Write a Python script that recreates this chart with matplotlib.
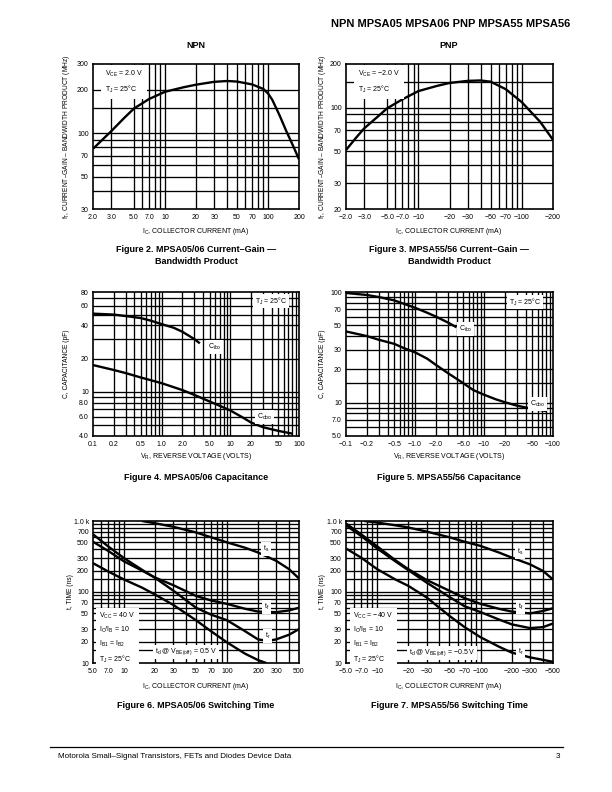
import matplotlib.pyplot as plt

plt.rcParams['font.family'] = ['Liberation Sans', 'DejaVu Sans']
plt.rcParams['mathtext.fontset'] = 'custom'
plt.rcParams['mathtext.rm'] = 'Liberation Sans'

# ---- data ----
# Figure 2: NPN fT vs IC
npn_ft_ic = [2, 2.5, 3, 4, 5, 7, 10, 15, 20, 30, 40, 50, 70, 90, 100, 110, 130, 150, 175, 200]
npn_ft = [78, 91, 103, 127, 148, 172, 193, 207, 216, 226, 229, 227, 217, 202, 188, 170, 132, 104, 82, 66]

# Figure 3: PNP fT vs IC (magnitude of negative current)
pnp_ft_ic = [2, 2.5, 3, 4, 5, 7, 10, 15, 20, 30, 40, 50, 70, 100, 150, 200]
pnp_ft = [51, 62, 72, 86, 99, 114, 130, 141, 148, 153, 154, 151, 134, 109, 80, 60]

# Figure 4: NPN capacitance vs VR
npn_cibo_v = [0.1, 0.2, 0.3, 0.5, 0.7, 1.0, 1.5, 2.0, 3.0, 3.6]
npn_cibo = [51, 50, 48.5, 46.5, 44, 41, 38, 35, 30, 27.5]
npn_cobo_v = [0.1, 0.2, 0.3, 0.5, 1, 2, 3, 5, 7, 10, 15, 20, 30, 50, 80]
npn_cobo = [17.5, 15.8, 14.8, 13.5, 12, 10.4, 9.4, 8.2, 7.5, 6.8, 5.9, 5.3, 4.8, 4.45, 4.2]

# Figure 5: PNP capacitance vs VR (magnitude)
pnp_cibo_v = [0.1, 0.2, 0.3, 0.5, 0.7, 1, 1.5, 2, 3, 4]
pnp_cibo = [98, 94, 90, 84, 78, 72, 65, 60, 53, 48]
pnp_cobo_v = [0.1, 0.2, 0.3, 0.5, 0.7, 1, 1.5, 2, 3, 5, 7, 10, 15, 20, 30, 50, 80]
pnp_cobo = [44, 40, 37, 34, 31, 28.5, 25, 22, 18.5, 15, 13, 11.8, 10.7, 10.1, 9.4, 8.8, 8.4]

# Figure 6: NPN switching times
npn_ts_ic = [15, 20, 30, 50, 70, 100, 150, 200, 300, 400, 500]
npn_ts = [1000, 930, 830, 690, 590, 500, 420, 360, 275, 210, 155]
npn_tr_ic = [5, 7, 10, 15, 20, 30, 50, 70, 100, 150, 200, 250, 300, 400, 500]
npn_tr = [650, 440, 300, 205, 158, 105, 60, 48, 40, 28, 21.5, 20.5, 21.5, 25, 30]
npn_tf_ic = [5, 7, 10, 15, 20, 30, 50, 70, 100, 150, 200, 300, 400, 500]
npn_tf = [510, 380, 270, 200, 160, 125, 88, 76, 68, 58, 53, 52, 55, 60]
npn_td_ic = [5, 7, 10, 15, 20, 30, 50, 70, 100, 150, 200, 240]
npn_td = [255, 195, 150, 115, 92, 66, 40, 28, 19.5, 13.5, 11, 10]

# Figure 7: PNP switching times (magnitude of current)
pnp_ts_ic = [7.5, 10, 15, 20, 30, 50, 70, 100, 150, 200, 300, 400, 500]
pnp_ts = [1000, 950, 870, 810, 710, 590, 510, 445, 360, 305, 245, 198, 150]
pnp_tf_ic = [5, 7, 10, 15, 20, 30, 50, 70, 100, 150, 200, 300, 400, 500]
pnp_tf = [920, 650, 440, 280, 210, 148, 104, 82, 68, 58, 53, 50, 54, 59]
pnp_t2 = [870, 615, 410, 270, 203, 136, 85, 63, 52, 41, 35, 31, 32, 36]
pnp_tr_ic = [5, 7, 10, 15, 20, 30, 50, 70, 100, 150, 200, 300, 500]
pnp_tr = [410, 305, 210, 150, 122, 84, 46, 32, 23, 17, 14, 12, 10.4]

# ---- ticks and grid lines ----
ft_x_ticks = [2, 3, 5, 7, 10, 20, 30, 50, 70, 100, 200]
ft_x_grid = [3, 5, 6, 7, 8, 9, 10, 20, 30, 40, 50, 60, 70, 80, 90, 100]
npn_ft_y_ticks = [30, 50, 70, 100, 200, 300]
npn_ft_y_grid = [40, 50, 60, 70, 80, 90, 100, 150, 200]
pnp_ft_y_ticks = [20, 30, 50, 70, 100, 200]
pnp_ft_y_grid = [30, 40, 50, 60, 70, 80, 90, 100, 150]

cap_x_ticks = [0.1, 0.2, 0.5, 1, 2, 5, 10, 20, 50, 100]
cap_x_grid = [m * d for d in (0.1, 1, 10) for m in range(2, 10)] + [1, 10]
npn_cap_y_ticks = [4, 6, 8, 10, 20, 40, 60, 80]
npn_cap_y_grid = [5, 6, 7, 8, 9, 10, 20, 30, 40, 50, 60, 70]
pnp_cap_y_ticks = [5, 7, 10, 20, 30, 50, 70, 100]
pnp_cap_y_grid = [6, 7, 8, 9, 10, 15, 20, 30, 40, 50, 60, 70, 80, 90]

sw_x_ticks = [5, 7, 10, 20, 30, 50, 70, 100, 200, 300, 500]
sw_x_grid = [6, 7, 8, 9, 10, 20, 30, 40, 50, 60, 70, 80, 90, 100, 200, 300, 400]
sw_y_ticks = [10, 20, 30, 50, 70, 100, 200, 300, 500, 700, 1000]
sw_y_labels = ['10', '20', '30', '50', '70', '100', '200', '300', '500', '700', '1.0 k']
sw_y_grid = [15, 20, 30, 40, 50, 60, 70, 80, 90, 100, 150, 200, 300, 400, 500, 600, 700, 800, 900]

W, H = 612, 792
fig = plt.figure(figsize=(6.12, 7.92), dpi=100)


def ftext(x, y, s, **kw):
    # place text using page pixel coordinates
    return fig.text(x / W, 1 - y / H, s, **kw)


def make_axes(l, t, r, b, xlim, ylim, xgrid, ygrid, xticks, xlabels, yticks, ylabels):
    ax = fig.add_axes([l / W, 1 - b / H, (r - l) / W, (b - t) / H])
    ax.set_xscale('log')
    ax.set_yscale('log')
    for v in xgrid:
        ax.axvline(v, color='black', lw=0.95, zorder=1)
    for v in ygrid:
        ax.axhline(v, color='black', lw=0.95, zorder=1)
    ax.set_xticks(xticks, xlabels)
    ax.set_yticks(yticks, ylabels)
    ax.set_xticks([], minor=True)
    ax.set_yticks([], minor=True)
    ax.set_xlim(xlim)
    ax.set_ylim(ylim)
    ax.tick_params(length=0, labelsize=5, pad=3)
    ax.tick_params(axis='x', pad=3.5)
    for s in ax.spines.values():
        s.set_linewidth(1.2)
    return ax


def neg(vals):
    return ['\u2212' + v for v in vals]


curve = dict(color='black', lw=1.7, zorder=2, solid_capstyle='butt')
box = dict(facecolor='white', edgecolor='none', pad=1.2)

# ---- header / footer ----
ftext(570, 24, 'NPN MPSA05 MPSA06 PNP MPSA55 MPSA56', fontsize=8, fontweight='heavy',
      ha='right', va='center')
ftext(196, 45, 'NPN', fontsize=6.5, fontweight='bold', ha='center', va='center')
ftext(449, 45, 'PNP', fontsize=6.5, fontweight='bold', ha='center', va='center')
fig.add_artist(plt.Line2D([50 / W, 563 / W], [1 - 747 / H, 1 - 747 / H], color='black', lw=0.9))
ftext(58, 757, 'Motorola Small\u2013Signal Transistors, FETs and Diodes Device Data',
      fontsize=5.8, va='center')
ftext(560, 757, '3', fontsize=5.8, ha='right', va='center')

# ---- Figure 2 ----
fx_lab = ['2.0', '3.0', '5.0', '7.0', '10', '20', '30', '50', '70', '100', '200']
ax1 = make_axes(93, 64, 299, 209, (2, 200), (30, 300), ft_x_grid, npn_ft_y_grid,
                ft_x_ticks, fx_lab, npn_ft_y_ticks, [str(v) for v in npn_ft_y_ticks])
ax1.plot(npn_ft_ic, npn_ft, **curve)
ftext(105, 82, 'V$_\\mathregular{CE}$ = 2.0 V\nT$_\\mathregular{J}$ = 25\u00b0C', fontsize=5,
      va='center', linespacing=1.6, bbox=dict(facecolor='white', edgecolor='none', pad=3))

# ---- Figure 3 ----
ax2 = make_axes(346, 64, 553, 209, (2, 200), (20, 200), ft_x_grid, pnp_ft_y_grid,
                ft_x_ticks, neg(fx_lab), pnp_ft_y_ticks, [str(v) for v in pnp_ft_y_ticks])
ax2.plot(pnp_ft_ic, pnp_ft, **curve)
ftext(358, 82, 'V$_\\mathregular{CE}$ = \u22122.0 V\nT$_\\mathregular{J}$ = 25\u00b0C', fontsize=5,
      va='center', linespacing=1.6, bbox=dict(facecolor='white', edgecolor='none', pad=3))

for cx, ylx in ((196, 67), (449, 322)):
    ftext(cx, 231, 'I$_\\mathregular{C}$, COLLECTOR CURRENT (mA)', fontsize=5, ha='center', va='center')
    ftext(ylx, 137, 'f$_\\mathregular{T}$, CURRENT\u2013GAIN \u2013 BANDWIDTH PRODUCT (MHz)',
          fontsize=4.8, rotation=90, ha='center', va='center')
ftext(196, 249, 'Figure 2. MPSA05/06 Current\u2013Gain \u2014', fontsize=6.5, fontweight='bold',
      ha='center', va='center')
ftext(196, 261, 'Bandwidth Product', fontsize=6.5, fontweight='bold', ha='center', va='center')
ftext(449, 249, 'Figure 3. MPSA55/56 Current\u2013Gain \u2014', fontsize=6.5, fontweight='bold',
      ha='center', va='center')
ftext(449, 261, 'Bandwidth Product', fontsize=6.5, fontweight='bold', ha='center', va='center')

# ---- Figure 4 ----
cap_lab = ['0.1', '0.2', '0.5', '1.0', '2.0', '5.0', '10', '20', '50', '100']
ax3 = make_axes(93, 292, 299, 436, (0.1, 100), (4, 80), cap_x_grid, npn_cap_y_grid,
                cap_x_ticks, cap_lab, npn_cap_y_ticks,
                ['4.0', '6.0', '8.0', '10', '20', '40', '60', '80'])
ax3.plot(npn_cibo_v, npn_cibo, **curve)
ax3.plot(npn_cobo_v, npn_cobo, **curve)
ftext(271, 301, 'T$_\\mathregular{J}$ = 25\u00b0C', fontsize=5, ha='center', va='center', bbox=box)
ftext(208, 347, 'C$_\\mathregular{ibo}$', fontsize=5, va='center', bbox=box)
ftext(257, 417, 'C$_\\mathregular{obo}$', fontsize=5, va='center', bbox=box)

# ---- Figure 5 ----
ax4 = make_axes(346, 292, 553, 436, (0.1, 100), (5, 100), cap_x_grid, pnp_cap_y_grid,
                cap_x_ticks, neg(cap_lab), pnp_cap_y_ticks,
                ['5.0', '7.0', '10', '20', '30', '50', '70', '100'])
ax4.plot(pnp_cibo_v, pnp_cibo, **curve)
ax4.plot(pnp_cobo_v, pnp_cobo, **curve)
ftext(525, 302, 'T$_\\mathregular{J}$ = 25\u00b0C', fontsize=5, ha='center', va='center', bbox=box)
ftext(459, 329, 'C$_\\mathregular{ibo}$', fontsize=5, va='center', bbox=box)
ftext(530, 404, 'C$_\\mathregular{obo}$', fontsize=5, va='center', bbox=box)

for cx, ylx in ((196, 67), (449, 322)):
    ftext(cx, 457, 'V$_\\mathregular{R}$, REVERSE VOLTAGE (VOLTS)', fontsize=5, ha='center', va='center')
    ftext(ylx, 364, 'C, CAPACITANCE (pF)', fontsize=4.8, rotation=90, ha='center', va='center')
ftext(196, 477, 'Figure 4. MPSA05/06 Capacitance', fontsize=6.5, fontweight='bold',
      ha='center', va='center')
ftext(449, 477, 'Figure 5. MPSA55/56 Capacitance', fontsize=6.5, fontweight='bold',
      ha='center', va='center')

# ---- Figure 6 ----
sw_lab = ['5.0', '7.0', '10', '20', '30', '50', '70', '100', '200', '300', '500']
ax5 = make_axes(93, 521, 299, 663, (5, 500), (10, 1000), sw_x_grid, sw_y_grid,
                sw_x_ticks, sw_lab, sw_y_ticks, sw_y_labels)
ax5.plot(npn_ts_ic, npn_ts, **curve)
ax5.plot(npn_tr_ic, npn_tr, **curve)
ax5.plot(npn_tf_ic, npn_tf, **curve)
ax5.plot(npn_td_ic, npn_td, **curve)
ftext(263, 549, 't$_\\mathregular{s}$', fontsize=5, va='center', bbox=box)
ftext(264, 607, 't$_\\mathregular{f}$', fontsize=5, va='center', bbox=box)
ftext(265, 636, 't$_\\mathregular{r}$', fontsize=5, va='center', bbox=box)
ftext(99, 638, 'V$_\\mathregular{CC}$ = 40 V\nI$_\\mathregular{C}$/I$_\\mathregular{B}$ = 10\n'
      'I$_\\mathregular{B1}$ = I$_\\mathregular{B2}$\nT$_\\mathregular{J}$ = 25\u00b0C',
      fontsize=5, va='center', linespacing=1.55,
      bbox=dict(facecolor='white', edgecolor='none', pad=2.5))
ftext(155, 652, 't$_\\mathregular{d}$ @ V$_\\mathregular{BE(off)}$ = 0.5 V', fontsize=5,
      va='center', bbox=box)

# ---- Figure 7 ----
ax6 = make_axes(346, 521, 553, 663, (5, 500), (10, 1000), sw_x_grid, sw_y_grid,
                sw_x_ticks, neg(sw_lab), sw_y_ticks, sw_y_labels)
ax6.plot(pnp_ts_ic, pnp_ts, **curve)
ax6.plot(pnp_tf_ic, pnp_tf, **curve)
ax6.plot(pnp_tf_ic, pnp_t2, **curve)
ax6.plot(pnp_tr_ic, pnp_tr, **curve)
ftext(517, 552, 't$_\\mathregular{s}$', fontsize=5, va='center', bbox=box)
ftext(518, 607, 't$_\\mathregular{f}$', fontsize=5, va='center', bbox=box)
ftext(518, 652, 't$_\\mathregular{r}$', fontsize=5, va='center', bbox=box)
ftext(353, 638, 'V$_\\mathregular{CC}$ = \u221240 V\nI$_\\mathregular{C}$/I$_\\mathregular{B}$ = 10\n'
      'I$_\\mathregular{B1}$ = I$_\\mathregular{B2}$\nT$_\\mathregular{J}$ = 25\u00b0C',
      fontsize=5, va='center', linespacing=1.55,
      bbox=dict(facecolor='white', edgecolor='none', pad=2.5))
ftext(409, 653, 't$_\\mathregular{d}$ @ V$_\\mathregular{BE(off)}$ = \u22120.5 V', fontsize=5,
      va='center', bbox=box)

for cx, ylx in ((196, 70), (449, 322)):
    ftext(cx, 687, 'I$_\\mathregular{C}$, COLLECTOR CURRENT (mA)', fontsize=5, ha='center', va='center')
    ftext(ylx, 592, 't, TIME (ns)', fontsize=4.8, rotation=90, ha='center', va='center')
ftext(196, 705, 'Figure 6. MPSA05/06 Switching Time', fontsize=6.5, fontweight='bold',
      ha='center', va='center')
ftext(449, 705, 'Figure 7. MPSA55/56 Switching Time', fontsize=6.5, fontweight='bold',
      ha='center', va='center')

fig.savefig('out.png', dpi=100)
